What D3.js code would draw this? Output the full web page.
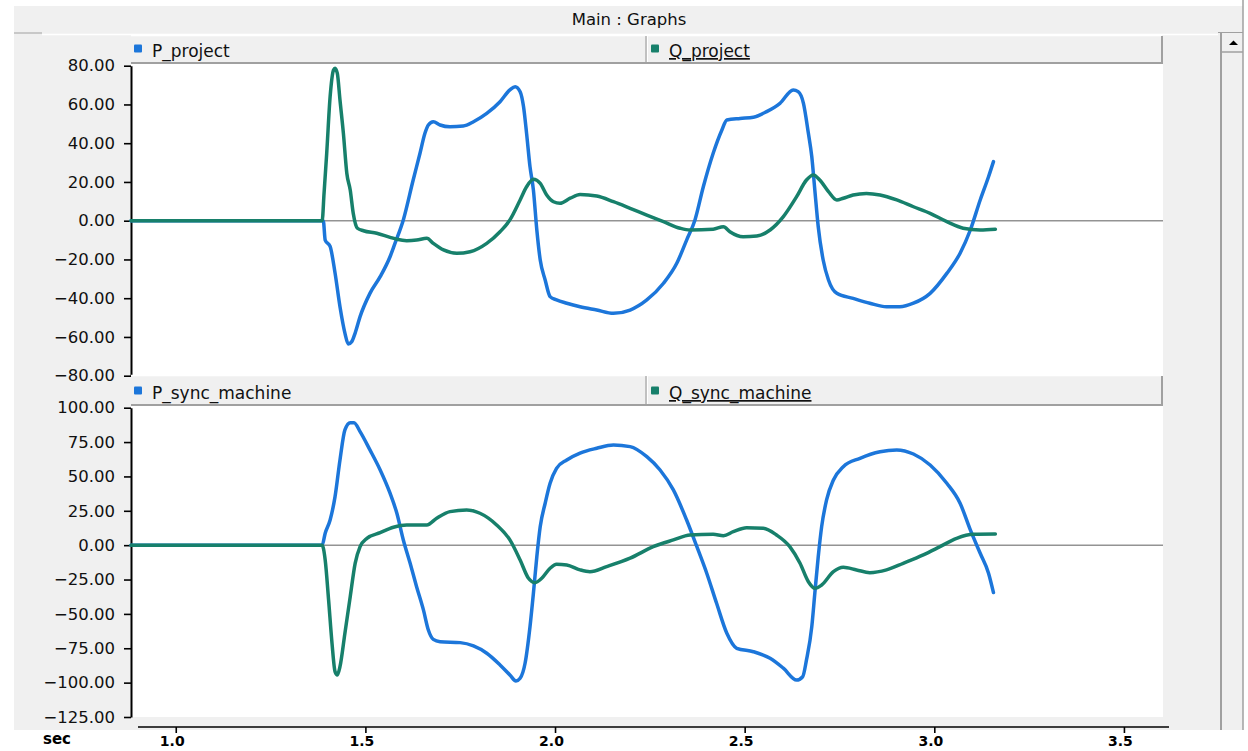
<!DOCTYPE html>
<html>
<head>
<meta charset="utf-8">
<script src="https://cdn.jsdelivr.net/npm/d3@7/dist/d3.min.js"></script>
<style>
  html, body { margin: 0; padding: 0; background: #ffffff; }
  svg { display: block; }
  text { font-family: "DejaVu Sans", Verdana, sans-serif; }
</style>
</head>
<body>
<svg id="chart" width="1248" height="751"></svg>
<script>
// ---- data: time in seconds, values in MW / MVAr ----
const pProject = [
  [0.882,0],[1.386,0],[1.389,0],[1.394,-10],[1.407,-13.3],[1.420,-27],[1.433,-44.4],[1.446,-58],
  [1.455,-63.6],[1.464,-62.4],[1.473,-58],[1.486,-49.5],[1.512,-37.5],[1.539,-28.9],[1.565,-18.6],
  [1.578,-11.7],[1.600,0.4],[1.626,21],[1.644,34.8],[1.657,45.1],[1.666,49.4],[1.679,51.1],[1.697,49.4],
  [1.723,48.5],[1.758,48.9],[1.785,51.1],[1.820,55.4],[1.855,61.4],[1.881,67.5],[1.895,69.2],[1.908,66.6],
  [1.917,58.8],[1.925,45.1],[1.934,27.9],[1.943,15.8],[1.952,-4.8],[1.961,-20.3],[1.974,-30.6],
  [1.987,-39.2],[2.004,-40.9],[2.031,-42.6],[2.066,-44.4],[2.110,-46.1],[2.154,-47.8],[2.198,-46.1],
  [2.242,-40.9],[2.286,-32.3],[2.321,-22],[2.347,-10],[2.369,0.4],[2.391,17.5],[2.417,34.8],[2.440,46.8],
  [2.453,52],[2.488,52.8],[2.523,53.4],[2.558,56.3],[2.593,60.6],[2.628,67.5],[2.641,66.6],[2.655,60.6],
  [2.668,45.1],[2.677,33],[2.685,15.8],[2.694,-3.1],[2.707,-20.3],[2.721,-30.6],[2.743,-37.5],
  [2.786,-40.1],[2.830,-42.6],[2.874,-44.4],[2.909,-44.4],[2.945,-42.6],[2.989,-37.5],[3.033,-27.2],
  [3.068,-16.8],[3.095,-4.8],[3.121,10.7],[3.143,22.7],[3.156,30.5]
];
const qProject = [
  [0.882,0],[1.386,0],[1.391,14.1],[1.398,34.8],[1.407,64],[1.416,77.8],[1.420,78.7],[1.426,76],
  [1.433,62.3],[1.442,45.1],[1.451,24.5],[1.460,15.8],[1.468,3.8],[1.479,-3.9],[1.495,-5.2],[1.530,-6.5],
  [1.565,-8.6],[1.583,-9.6],[1.609,-10.3],[1.635,-10],[1.662,-9.1],[1.679,-11.7],[1.706,-15.1],
  [1.741,-16.8],[1.776,-16],[1.820,-11.7],[1.855,-5.7],[1.881,0.4],[1.908,10.7],[1.925,17.5],[1.943,21.4],
  [1.961,19.3],[1.978,13.3],[1.996,9.8],[2.013,9],[2.040,11.6],[2.066,13.5],[2.110,12.7],[2.154,9.8],
  [2.198,6.4],[2.242,2.9],[2.286,-0.5],[2.330,-3.9],[2.356,-4.8],[2.417,-4.4],[2.444,-3.1],[2.461,-5.7],
  [2.496,-8.3],[2.532,-7.9],[2.567,-4.8],[2.602,2.1],[2.637,12.4],[2.663,21],[2.681,23.6],[2.698,21],
  [2.721,15],[2.743,10.7],[2.760,11.6],[2.786,13.3],[2.821,14.1],[2.857,13.3],[2.901,10.7],[2.945,7.2],
  [2.989,3.8],[3.033,-0.5],[3.076,-3.9],[3.121,-4.8],[3.161,-4.4]
];
const pSyncMachine = [
  [0.882,0],[1.386,0],[1.394,8.7],[1.407,18.3],[1.420,35.3],[1.433,62],[1.446,83.8],[1.460,89.1],
  [1.470,89.1],[1.486,82.6],[1.512,69.3],[1.539,54.7],[1.565,37.8],[1.583,23.2],[1.600,3.8],[1.618,-13.2],
  [1.635,-30.2],[1.653,-47.1],[1.666,-61.7],[1.679,-68.5],[1.697,-70.2],[1.750,-70.9],[1.785,-73.3],
  [1.820,-78.6],[1.855,-87.1],[1.881,-94.4],[1.897,-98.8],[1.908,-96.8],[1.921,-85.9],[1.934,-59.3],
  [1.943,-35],[1.952,-8.4],[1.961,13.5],[1.974,30.5],[1.987,45],[2.004,55.9],[2.031,62],[2.066,67],
  [2.110,70.5],[2.154,72.9],[2.198,71.7],[2.242,64.4],[2.277,54.7],[2.312,40.2],[2.347,18.3],[2.374,-1.1],
  [2.400,-20.4],[2.426,-42.3],[2.453,-64.1],[2.479,-75],[2.523,-77.5],[2.567,-82.3],[2.602,-89.5],
  [2.637,-98.1],[2.653,-95.7],[2.663,-83.5],[2.677,-59.3],[2.685,-35],[2.694,-8.4],[2.703,13.5],
  [2.716,32.9],[2.734,47.4],[2.760,57.1],[2.804,63.2],[2.857,68],[2.901,69.3],[2.945,66.3],[2.989,58.3],
  [3.033,45],[3.068,30.5],[3.095,11.1],[3.121,-5.9],[3.143,-20.4],[3.156,-34.5]
];
const qSyncMachine = [
  [0.882,0],[1.386,0],[1.394,-10.8],[1.403,-39.9],[1.412,-71.4],[1.420,-92],[1.426,-94.4],[1.433,-88.4],
  [1.446,-64.1],[1.460,-37.5],[1.473,-13.2],[1.486,-1.1],[1.504,5],[1.539,9.1],[1.574,13],[1.609,14.7],
  [1.662,14.7],[1.688,19.6],[1.723,24.4],[1.767,25.6],[1.802,23.2],[1.846,14.7],[1.881,3.8],[1.908,-10.8],
  [1.930,-24.1],[1.947,-27.3],[1.965,-24.1],[1.987,-16.8],[2.004,-13.9],[2.031,-14.4],[2.066,-18],
  [2.092,-19.3],[2.136,-15.6],[2.198,-9.5],[2.259,-1.1],[2.312,3.8],[2.356,7.4],[2.417,7.9],[2.444,6.9],
  [2.470,9.8],[2.505,12.7],[2.549,12.3],[2.584,7.4],[2.619,-1.1],[2.646,-13.2],[2.668,-26.6],[2.685,-31.4],
  [2.703,-29],[2.734,-19.3],[2.760,-16.1],[2.795,-18],[2.830,-20],[2.874,-18],[2.918,-13.2],[2.971,-7.1],
  [3.015,-1.1],[3.059,5],[3.103,7.9],[3.161,8.1]
];

const topTicks = [80, 60, 40, 20, 0, -20, -40, -60, -80];
const bottomTicks = [100, 75, 50, 25, 0, -25, -50, -75, -100, -125];
const xTicks = [1.0, 1.5, 2.0, 2.5, 3.0, 3.5];
const topNames = ["P_project", "Q_project"];
const bottomNames = ["P_sync_machine", "Q_sync_machine"];
const title = "Main : Graphs";
const xUnit = "sec";

// ---- styling ----
const BLUE = "#1c76da";
const GREEN = "#17806b";
const PANEL_BG = "#f0f0f0";
const EDGE = "#a0a0a0";

const svg = d3.select("#chart");

// window frame
svg.append("rect").attr("x", 14).attr("y", 6).attr("width", 1229).attr("height", 724).attr("fill", PANEL_BG);
svg.append("text").attr("x", 629).attr("y", 25).attr("text-anchor", "middle")
  .attr("font-size", 16.5).attr("fill", "#111").text(title);
svg.append("line").attr("x1", 14).attr("x2", 42).attr("y1", 33).attr("y2", 33).attr("stroke", EDGE).attr("stroke-width", 1);
svg.append("line").attr("x1", 42).attr("x2", 1218).attr("y1", 34.5).attr("y2", 34.5).attr("stroke", "#fff").attr("stroke-width", 1.5);

// vertical scrollbar
svg.append("line").attr("x1", 1218).attr("x2", 1243).attr("y1", 32.5).attr("y2", 32.5).attr("stroke", EDGE).attr("stroke-width", 1);
svg.append("line").attr("x1", 1221).attr("x2", 1221).attr("y1", 32).attr("y2", 730).attr("stroke", EDGE).attr("stroke-width", 2);
svg.append("line").attr("x1", 1243).attr("x2", 1243).attr("y1", 0).attr("y2", 730).attr("stroke", EDGE).attr("stroke-width", 1.5);
svg.append("line").attr("x1", 1222).attr("x2", 1243).attr("y1", 52).attr("y2", 52).attr("stroke", EDGE).attr("stroke-width", 1.5);
svg.append("path").attr("d", "M1229,45L1238,45L1233.5,40.5Z").attr("fill", "#000");

// shared time axis
const x = d3.scaleLinear().domain([0.882, 3.603]).range([131, 1163]);

const panels = [
  { legendTop: 36, legendBottom: 63, plotTop: 64, plotBottom: 376,
    yDomain: [-80, 80], yRange: [375.7, 65.7], ticks: topTicks, names: topNames,
    series: [pProject, qProject] },
  { legendTop: 376, legendBottom: 405, plotTop: 406, plotBottom: 717,
    yDomain: [-125, 100], yRange: [717, 407.7], ticks: bottomTicks, names: bottomNames,
    series: [pSyncMachine, qSyncMachine] }
];

const colors = [BLUE, GREEN];

panels.forEach(p => {
  const g = svg.append("g");
  const y = d3.scaleLinear().domain(p.yDomain).range(p.yRange);

  // plot background
  g.append("rect").attr("x", 131).attr("y", p.plotTop).attr("width", 1032)
    .attr("height", p.plotBottom - p.plotTop).attr("fill", "#fff");

  // legend strip
  g.append("rect").attr("x", 131).attr("y", p.legendTop).attr("width", 1032)
    .attr("height", p.legendBottom - p.legendTop).attr("fill", PANEL_BG);
  g.append("line").attr("x1", 131).attr("x2", 1162).attr("y1", p.legendTop - 0.5).attr("y2", p.legendTop - 0.5)
    .attr("stroke", "#fff").attr("stroke-width", 1.5);
  g.append("line").attr("x1", 131).attr("x2", 1163).attr("y1", p.legendBottom).attr("y2", p.legendBottom)
    .attr("stroke", EDGE).attr("stroke-width", 2);
  g.append("line").attr("x1", 1162).attr("x2", 1162).attr("y1", p.legendTop).attr("y2", p.legendBottom)
    .attr("stroke", EDGE).attr("stroke-width", 2);
  g.append("line").attr("x1", 646).attr("x2", 646).attr("y1", p.legendTop).attr("y2", p.legendBottom - 1)
    .attr("stroke", EDGE).attr("stroke-width", 1.2);
  g.append("line").attr("x1", 647.5).attr("x2", 647.5).attr("y1", p.legendTop).attr("y2", p.legendBottom - 1)
    .attr("stroke", "#fff").attr("stroke-width", 1);

  const legendX = [134, 651];
  const baseline = p.legendBottom - 6;
  p.names.forEach((name, i) => {
    g.append("rect").attr("x", legendX[i]).attr("y", baseline - 12.5).attr("width", 8).attr("height", 8)
      .attr("rx", 1).attr("fill", colors[i]);
    const t = g.append("text").attr("x", legendX[i] + 18).attr("y", baseline)
      .attr("font-size", 17).attr("fill", "#111").text(name);
    if (i === 1) t.attr("text-decoration", "underline");
  });

  // zero reference line
  g.append("line").attr("x1", 131).attr("x2", 1163).attr("y1", y(0)).attr("y2", y(0))
    .attr("stroke", "#939393").attr("stroke-width", 1.5);

  // value axis
  const axis = g.append("g").attr("transform", "translate(131,0)")
    .call(d3.axisLeft(y).tickValues(p.ticks).tickFormat(d3.format(".2f"))
      .tickSize(7).tickSizeOuter(0).tickPadding(9));
  axis.select(".domain").attr("stroke", "#000").attr("stroke-width", 2);
  axis.selectAll(".tick line").attr("stroke", "#000").attr("stroke-width", 1.6);
  axis.selectAll(".tick text").attr("font-size", 16.5).attr("fill", "#111")
    .attr("font-family", "DejaVu Sans, Verdana, sans-serif");

  // traces
  const line = d3.line().curve(d3.curveMonotoneX).x(d => x(d[0])).y(d => y(d[1]));
  p.series.forEach((s, i) => {
    g.append("path").datum(s).attr("d", line).attr("fill", "none")
      .attr("stroke", colors[i]).attr("stroke-width", 3.5)
      .attr("stroke-linejoin", "round").attr("stroke-linecap", "round");
  });
});

// time axis
const xAxis = svg.append("g").attr("transform", "translate(0,727)")
  .call(d3.axisBottom(x).tickValues(xTicks).tickFormat(d3.format(".1f")).tickSize(6).tickSizeOuter(0).tickPadding(3));
xAxis.select(".domain").attr("d", `M${x.range()[0] + 7},0H${x.range()[1] + 6}`)
  .attr("stroke", "#000").attr("stroke-width", 1.6);
xAxis.selectAll(".tick line").attr("stroke", "#000").attr("stroke-width", 1.6);
xAxis.selectAll(".tick text").attr("font-size", 14).attr("font-weight", "bold").attr("fill", "#000")
  .attr("dx", -4).attr("font-family", "DejaVu Sans, Verdana, sans-serif");

svg.append("text").attr("x", 43).attr("y", 743.5).attr("font-size", 15).attr("font-weight", "bold")
  .attr("fill", "#000").text(xUnit);
</script>
</body>
</html>
